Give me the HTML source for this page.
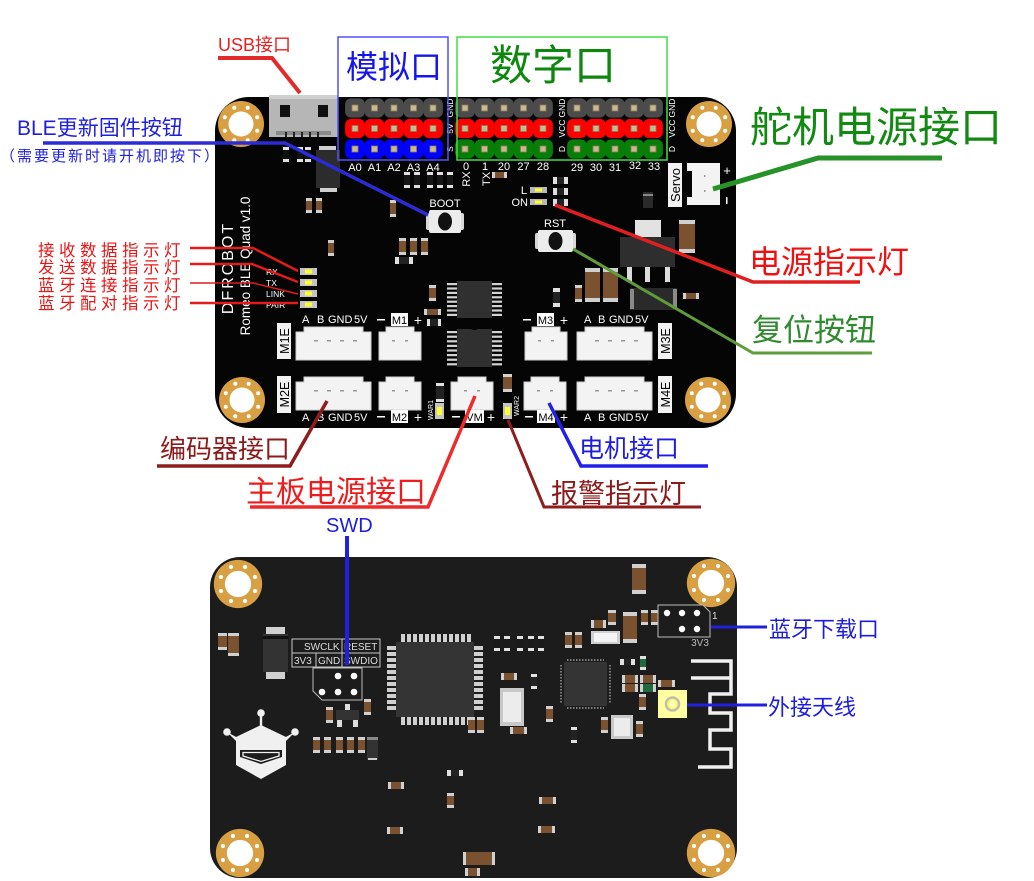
<!DOCTYPE html>
<html><head><meta charset="utf-8">
<style>
html,body{margin:0;padding:0;background:#fff;}
svg{display:block;}
text{font-family:"Liberation Sans","Noto Sans CJK SC",sans-serif;}
</style></head><body>
<svg width="1034" height="881" viewBox="0 0 1034 881" xmlns="http://www.w3.org/2000/svg">
<defs>
<g id="hole">
 <circle r="23" fill="#d9a043"/>
 <circle r="12.5" fill="#fff"/>
 <circle cx="6.7" cy="16.2" r="2" fill="#fff"/><circle cx="16.2" cy="6.7" r="2" fill="#fff"/>
 <circle cx="16.2" cy="-6.7" r="2" fill="#fff"/><circle cx="6.7" cy="-16.2" r="2" fill="#fff"/>
 <circle cx="-6.7" cy="-16.2" r="2" fill="#fff"/><circle cx="-16.2" cy="-6.7" r="2" fill="#fff"/>
 <circle cx="-16.2" cy="6.7" r="2" fill="#fff"/><circle cx="-6.7" cy="16.2" r="2" fill="#fff"/>
</g>
<g id="pin">
 <rect x="-9.9" y="-9.6" width="19.8" height="19.2" rx="6"/>
 <rect x="-3" y="-3" width="6" height="6" fill="#c9b98f" stroke="#8c7c58" stroke-width="0.8"/>
</g>
<g id="c4">
 <path d="M0,5 H8 V0 H67 V5 H75 V33 H0 Z" fill="#f3f3f3" stroke="#cfcfcf" stroke-width="1"/>
 <rect x="18" y="13" width="4" height="1.5" fill="#999"/><rect x="31" y="13" width="4" height="1.5" fill="#999"/>
 <rect x="44" y="13" width="4" height="1.5" fill="#999"/><rect x="57" y="13" width="4" height="1.5" fill="#999"/>
</g>
<g id="c2">
 <path d="M0,5 H7 V0 H35 V5 H42 V33 H0 Z" fill="#f3f3f3" stroke="#cfcfcf" stroke-width="1"/>
 <rect x="13" y="13" width="3" height="1.5" fill="#999"/><rect x="26" y="13" width="3" height="1.5" fill="#999"/>
</g>
</defs>

<rect width="1034" height="881" fill="#fff"/>

<!-- ================= TOP BOARD ================= -->
<rect x="215" y="97" width="521" height="331" rx="34" fill="#050505"/>

<!-- USB -->
<rect x="269" y="95" width="69" height="42" fill="#b6b6b6"/>
<rect x="269" y="95" width="69" height="4" fill="#cfcfcf"/>
<rect x="280" y="105" width="10" height="12" fill="#111"/>
<rect x="318" y="105" width="10" height="12" fill="#111"/>
<rect x="276" y="131" width="55" height="4" fill="#8a8a8a"/>
<rect x="285" y="132" width="2" height="5" fill="#222"/><rect x="293" y="132" width="2" height="5" fill="#222"/><rect x="301" y="132" width="2" height="5" fill="#222"/><rect x="309" y="132" width="2" height="5" fill="#222"/><rect x="317" y="132" width="2" height="5" fill="#222"/>

<!-- holes top board -->
<use href="#hole" x="241" y="124"/>
<use href="#hole" x="709" y="124"/>
<use href="#hole" x="242" y="400"/>
<use href="#hole" x="708" y="400"/>

<!-- small comps near USB -->
<g fill="#e0e0e0">
<rect x="283" y="147" width="6" height="15"/><rect x="297" y="147" width="6" height="15"/><rect x="305" y="147" width="6" height="15"/>
</g>
<g fill="#111">
<rect x="283" y="150" width="6" height="9"/><rect x="297" y="150" width="6" height="9"/><rect x="305" y="150" width="6" height="9"/>
</g>
<rect x="319" y="146" width="17" height="5" fill="#cfcfcf"/>
<rect x="316" y="150" width="24" height="38" fill="#2c2c2c"/>
<rect x="320" y="188" width="17" height="4" fill="#cfcfcf"/>

<!-- brown caps -->
<g>
<rect x="306" y="198" width="6" height="15" fill="#d0d0d0"/><rect x="306" y="201" width="6" height="9" fill="#7a5230"/>
<rect x="316" y="198" width="6" height="15" fill="#d0d0d0"/><rect x="316" y="201" width="6" height="9" fill="#7a5230"/>
<rect x="390" y="200" width="6" height="17" fill="#d0d0d0"/><rect x="390" y="203" width="6" height="11" fill="#7a5230"/>
<rect x="328" y="240" width="6" height="16" fill="#d0d0d0"/><rect x="328" y="243" width="6" height="10" fill="#7a5230"/>
<rect x="399" y="238" width="7" height="17" fill="#d0d0d0"/><rect x="399" y="241" width="7" height="11" fill="#7a5230"/>
<rect x="410" y="238" width="7" height="17" fill="#d0d0d0"/><rect x="410" y="241" width="7" height="11" fill="#7a5230"/>
<rect x="421" y="238" width="7" height="17" fill="#d0d0d0"/><rect x="421" y="241" width="7" height="11" fill="#7a5230"/>
<rect x="429" y="285" width="7" height="16" fill="#d0d0d0"/><rect x="429" y="288" width="7" height="10" fill="#7a5230"/>
<rect x="424" y="309" width="17" height="6" fill="#d0d0d0"/><rect x="427" y="309" width="11" height="6" fill="#7a5230"/>
<rect x="492" y="172" width="15" height="6" fill="#d0d0d0"/><rect x="495" y="172" width="9" height="6" fill="#7a5230"/>
</g>
<rect x="395" y="257" width="18" height="7" fill="#e0e0e0"/><rect x="399" y="257" width="10" height="7" fill="#222"/>
<rect x="427" y="319" width="14" height="7" fill="#e0e0e0"/><rect x="430" y="319" width="8" height="7" fill="#222"/>

<!-- 5 comps below analog -->
<g fill="#e0e0e0">
<rect x="404" y="172" width="6" height="16"/><rect x="414" y="172" width="6" height="16"/><rect x="427" y="172" width="6" height="16"/><rect x="437" y="172" width="6" height="16"/><rect x="447" y="172" width="6" height="16"/>
</g>
<g fill="#151515">
<rect x="404" y="175" width="6" height="10"/><rect x="414" y="175" width="6" height="10"/><rect x="427" y="175" width="6" height="10"/><rect x="437" y="175" width="6" height="10"/><rect x="447" y="175" width="6" height="10"/>
</g>

<!-- pin headers analog -->
<g>
<use href="#pin" x="355" y="108" fill="#4b4b4b"/><use href="#pin" x="374.5" y="108" fill="#4b4b4b"/><use href="#pin" x="394" y="108" fill="#4b4b4b"/><use href="#pin" x="413.5" y="108" fill="#4b4b4b"/><use href="#pin" x="433" y="108" fill="#4b4b4b"/>
<use href="#pin" x="355" y="128.5" fill="#ff0000"/><use href="#pin" x="374.5" y="128.5" fill="#ff0000"/><use href="#pin" x="394" y="128.5" fill="#ff0000"/><use href="#pin" x="413.5" y="128.5" fill="#ff0000"/><use href="#pin" x="433" y="128.5" fill="#ff0000"/>
<use href="#pin" x="355" y="149" fill="#0000ff"/><use href="#pin" x="374.5" y="149" fill="#0000ff"/><use href="#pin" x="394" y="149" fill="#0000ff"/><use href="#pin" x="413.5" y="149" fill="#0000ff"/><use href="#pin" x="433" y="149" fill="#0000ff"/>
</g>
<!-- digital group 1 -->
<g>
<use href="#pin" x="465" y="108" fill="#4b4b4b"/><use href="#pin" x="484.5" y="108" fill="#4b4b4b"/><use href="#pin" x="504" y="108" fill="#4b4b4b"/><use href="#pin" x="523.5" y="108" fill="#4b4b4b"/><use href="#pin" x="543" y="108" fill="#4b4b4b"/>
<use href="#pin" x="465" y="128.5" fill="#ff0000"/><use href="#pin" x="484.5" y="128.5" fill="#ff0000"/><use href="#pin" x="504" y="128.5" fill="#ff0000"/><use href="#pin" x="523.5" y="128.5" fill="#ff0000"/><use href="#pin" x="543" y="128.5" fill="#ff0000"/>
<use href="#pin" x="465" y="149" fill="#077e07"/><use href="#pin" x="484.5" y="149" fill="#077e07"/><use href="#pin" x="504" y="149" fill="#077e07"/><use href="#pin" x="523.5" y="149" fill="#077e07"/><use href="#pin" x="543" y="149" fill="#077e07"/>
</g>
<!-- digital group 2 -->
<g>
<use href="#pin" x="577" y="108" fill="#4b4b4b"/><use href="#pin" x="596" y="108" fill="#4b4b4b"/><use href="#pin" x="615" y="108" fill="#4b4b4b"/><use href="#pin" x="634" y="108" fill="#4b4b4b"/><use href="#pin" x="653" y="108" fill="#4b4b4b"/>
<use href="#pin" x="577" y="128.5" fill="#ff0000"/><use href="#pin" x="596" y="128.5" fill="#ff0000"/><use href="#pin" x="615" y="128.5" fill="#ff0000"/><use href="#pin" x="634" y="128.5" fill="#ff0000"/><use href="#pin" x="653" y="128.5" fill="#ff0000"/>
<use href="#pin" x="577" y="149" fill="#077e07"/><use href="#pin" x="596" y="149" fill="#077e07"/><use href="#pin" x="615" y="149" fill="#077e07"/><use href="#pin" x="634" y="149" fill="#077e07"/><use href="#pin" x="653" y="149" fill="#077e07"/>
</g>

<!-- header labels -->
<g fill="#fff" font-size="8.5" text-anchor="middle">
<text transform="translate(453,108) rotate(-90)">GND</text>
<text transform="translate(453,128.5) rotate(-90)">5V</text>
<text transform="translate(453,149) rotate(-90)">S</text>
<text transform="translate(565,108) rotate(-90)">GND</text>
<text transform="translate(565,128.5) rotate(-90)">VCC</text>
<text transform="translate(565,149) rotate(-90)">D</text>
<text transform="translate(675,108) rotate(-90)">GND</text>
<text transform="translate(675,128.5) rotate(-90)">VCC</text>
<text transform="translate(675,149) rotate(-90)">D</text>
</g>
<g fill="#fff" font-size="11" text-anchor="middle">
<text x="355" y="171">A0</text><text x="374.5" y="171">A1</text><text x="394" y="171">A2</text><text x="413.5" y="171">A3</text><text x="433" y="171">A4</text>
<text x="466" y="170">0</text><text x="485" y="170">1</text><text x="504" y="170">20</text><text x="523.5" y="170">27</text><text x="543" y="170">28</text>
<text x="577" y="171">29</text><text x="596" y="171">30</text><text x="615" y="171">31</text><text x="635" y="169">32</text><text x="654" y="170">33</text>
<text transform="translate(470,179) rotate(-90)">RX</text>
<text transform="translate(490,179) rotate(-90)">TX</text>
</g>

<!-- BOOT -->
<rect x="426" y="213" width="38" height="17" fill="#d8d8d8" rx="2"/>
<rect x="429" y="210" width="32" height="23" fill="#ececec" rx="2"/>
<ellipse cx="445" cy="221.5" rx="7" ry="9" fill="#111"/>
<text x="445" y="207" fill="#fff" font-size="11" text-anchor="middle">BOOT</text>

<!-- L / ON LEDs -->
<rect x="530" y="187" width="17" height="6" fill="#b8b8b8"/><rect x="535" y="188.5" width="7" height="3" fill="#ffff30"/>
<rect x="530" y="199" width="17" height="6" fill="#b8b8b8"/><rect x="535" y="200.5" width="7" height="3" fill="#ffff30"/>
<text x="527" y="194" fill="#fff" font-size="11" text-anchor="end">L</text>
<text x="528" y="206" fill="#fff" font-size="11" text-anchor="end">ON</text>
<g>
<rect x="553" y="177" width="15" height="7" fill="#e0e0e0"/><rect x="557" y="177" width="7" height="7" fill="#222"/>
<rect x="553" y="188" width="15" height="7" fill="#e0e0e0"/><rect x="557" y="188" width="7" height="7" fill="#222"/>
<rect x="553" y="199" width="15" height="7" fill="#e0e0e0"/><rect x="557" y="199" width="7" height="7" fill="#222"/>
</g>

<!-- RST -->
<rect x="535" y="233" width="41" height="16" fill="#d8d8d8" rx="2"/>
<rect x="538" y="230" width="35" height="22" fill="#ececec" rx="2"/>
<ellipse cx="555.5" cy="241" rx="7" ry="9" fill="#111"/>
<text x="555" y="227" fill="#fff" font-size="11" text-anchor="middle">RST</text>

<!-- regulator area -->
<rect x="643" y="192" width="10" height="16" fill="#2a2a2a"/><rect x="643" y="194" width="10" height="2" fill="#888"/>
<rect x="635" y="220" width="26" height="17" fill="#e2e2e2"/>
<rect x="620" y="237" width="55" height="30" fill="#2e2e2e"/>
<rect x="627" y="267" width="5" height="15" fill="#dcdcdc"/><rect x="645" y="267" width="5" height="15" fill="#dcdcdc"/><rect x="665" y="267" width="5" height="15" fill="#dcdcdc"/>
<rect x="679" y="220" width="16" height="33" fill="#d0d0d0"/><rect x="679" y="224" width="16" height="25" fill="#7a5230"/>
<rect x="585" y="268" width="15" height="34" fill="#d0d0d0"/><rect x="585" y="272" width="15" height="26" fill="#7a5230"/>
<rect x="603" y="268" width="15" height="34" fill="#d0d0d0"/><rect x="603" y="272" width="15" height="26" fill="#7a5230"/>
<rect x="575" y="285" width="7" height="17" fill="#d0d0d0"/><rect x="575" y="288" width="7" height="11" fill="#7a5230"/>
<rect x="553" y="288" width="7" height="19" fill="#e0e0e0"/><rect x="553" y="292" width="7" height="11" fill="#222"/>
<rect x="630" y="288" width="47" height="22" fill="#2a2a2a"/><rect x="630" y="289" width="4" height="20" fill="#8a8a8a"/><rect x="673" y="289" width="4" height="20" fill="#8a8a8a"/>
<rect x="683" y="293" width="16" height="6" fill="#d0d0d0"/><rect x="686" y="293" width="10" height="6" fill="#7a5230"/>

<!-- Servo -->
<rect x="668" y="163" width="14" height="44" fill="#f2f2f2"/>
<text transform="translate(680,185) rotate(-90)" fill="#000" font-size="13" text-anchor="middle">Servo</text>
<path d="M687,163 H720 V205 H687 V197 H692 V171 H687 Z" fill="#f3f3f3"/>
<rect x="704" y="175" width="1.5" height="2" fill="#999"/><rect x="704" y="190" width="1.5" height="2" fill="#999"/>
<text x="727" y="175" fill="#fff" font-size="13" text-anchor="middle">+</text>
<rect x="726" y="197" width="1.5" height="7" fill="#fff"/>

<!-- Silkscreen rotated -->
<text transform="translate(233,268) rotate(-90)" fill="#fff" font-size="16" letter-spacing="2" text-anchor="middle">DFROBOT</text>
<text transform="translate(250,266) rotate(-90)" fill="#fff" font-size="13.5" text-anchor="middle">Romeo BLE Quad v1.0</text>

<!-- indicator LEDs -->
<g fill="#fff" font-size="8.5">
<text x="266" y="275">RX</text><text x="266" y="286">TX</text><text x="266" y="297">LINK</text><text x="266" y="308">PAIR</text>
</g>
<g>
<rect x="300" y="268" width="17" height="7" fill="#c4c4c4"/><rect x="305" y="269.5" width="7" height="4" fill="#ffff30"/>
<rect x="300" y="279" width="17" height="7" fill="#c4c4c4"/><rect x="305" y="280.5" width="7" height="4" fill="#ffff30"/>
<rect x="300" y="290" width="17" height="7" fill="#c4c4c4"/><rect x="305" y="291.5" width="7" height="4" fill="#ffff30"/>
<rect x="300" y="301" width="17" height="7" fill="#c4c4c4"/><rect x="305" y="302.5" width="7" height="4" fill="#ffff30"/>
</g>

<!-- motor driver chips -->
<g fill="#d2d2d2">
<rect x="447" y="283" width="10" height="2.2"/><rect x="447" y="287.4" width="10" height="2.2"/><rect x="447" y="291.8" width="10" height="2.2"/><rect x="447" y="296.2" width="10" height="2.2"/><rect x="447" y="300.6" width="10" height="2.2"/><rect x="447" y="305" width="10" height="2.2"/><rect x="447" y="309.4" width="10" height="2.2"/><rect x="447" y="313.8" width="10" height="2.2"/>
<rect x="492" y="283" width="10" height="2.2"/><rect x="492" y="287.4" width="10" height="2.2"/><rect x="492" y="291.8" width="10" height="2.2"/><rect x="492" y="296.2" width="10" height="2.2"/><rect x="492" y="300.6" width="10" height="2.2"/><rect x="492" y="305" width="10" height="2.2"/><rect x="492" y="309.4" width="10" height="2.2"/><rect x="492" y="313.8" width="10" height="2.2"/>
<rect x="447" y="331" width="10" height="2.2"/><rect x="447" y="335.6" width="10" height="2.2"/><rect x="447" y="340.2" width="10" height="2.2"/><rect x="447" y="344.8" width="10" height="2.2"/><rect x="447" y="349.4" width="10" height="2.2"/><rect x="447" y="354" width="10" height="2.2"/><rect x="447" y="358.6" width="10" height="2.2"/><rect x="447" y="363.2" width="10" height="2.2"/>
<rect x="492" y="331" width="10" height="2.2"/><rect x="492" y="335.6" width="10" height="2.2"/><rect x="492" y="340.2" width="10" height="2.2"/><rect x="492" y="344.8" width="10" height="2.2"/><rect x="492" y="349.4" width="10" height="2.2"/><rect x="492" y="354" width="10" height="2.2"/><rect x="492" y="358.6" width="10" height="2.2"/><rect x="492" y="363.2" width="10" height="2.2"/>
</g>
<rect x="457" y="281" width="35" height="37" fill="#303030"/>
<rect x="457" y="329" width="35" height="38" fill="#303030"/>
<circle cx="474.5" cy="324" r="6" fill="#050505"/>

<!-- motor connectors row 1 -->
<use href="#c4" x="296" y="327"/>
<use href="#c2" x="379" y="327"/>
<use href="#c2" x="525" y="327"/>
<use href="#c4" x="577" y="327"/>
<!-- row 2 -->
<use href="#c4" x="296" y="377"/>
<use href="#c2" x="379" y="377"/>
<use href="#c2" x="451" y="377"/>
<use href="#c2" x="524" y="377"/>
<use href="#c4" x="577" y="377"/>

<!-- ME label boxes -->
<rect x="277" y="323" width="14" height="36" fill="#f2f2f2"/>
<rect x="658" y="323" width="14" height="36" fill="#f2f2f2"/>
<rect x="277" y="376" width="14" height="37" fill="#f2f2f2"/>
<rect x="658" y="376" width="14" height="37" fill="#f2f2f2"/>
<g fill="#000" font-size="12.5" text-anchor="middle">
<text transform="translate(289,341) rotate(-90)">M1E</text>
<text transform="translate(670,341) rotate(-90)">M3E</text>
<text transform="translate(289,394.5) rotate(-90)">M2E</text>
<text transform="translate(670,394.5) rotate(-90)">M4E</text>
</g>

<!-- connector labels -->
<g fill="#fff" font-size="11">
<text x="302" y="323">A</text><text x="317" y="323">B</text><text x="328" y="323">GND</text><text x="354" y="323">5V</text>
<text x="584" y="323">A</text><text x="598" y="323">B</text><text x="609" y="323">GND</text><text x="635" y="323">5V</text>
<text x="302" y="421">A</text><text x="317" y="421">B</text><text x="328" y="421">GND</text><text x="354" y="421">5V</text>
<text x="584" y="421">A</text><text x="598" y="421">B</text><text x="609" y="421">GND</text><text x="635" y="421">5V</text>
</g>
<g fill="#fff">
<rect x="377" y="319" width="8" height="1.5"/><rect x="391" y="313" width="17" height="13"/>
<rect x="523" y="319" width="8" height="1.5"/><rect x="537" y="313" width="17" height="13"/>
<rect x="377" y="416" width="8" height="1.5"/><rect x="391" y="410" width="17" height="13"/>
<rect x="452" y="416" width="8" height="1.5"/><rect x="465" y="410" width="19" height="13"/>
<rect x="525" y="416" width="8" height="1.5"/><rect x="537" y="410" width="18" height="13"/>
</g>
<g fill="#000" font-size="11" text-anchor="middle">
<text x="399.5" y="324">M1</text><text x="545.5" y="324">M3</text>
<text x="399.5" y="421">M2</text><text x="474.5" y="421">VM</text><text x="546" y="421">M4</text>
</g>
<g fill="#fff" font-size="14" text-anchor="middle">
<text x="418" y="325">+</text><text x="564" y="325">+</text>
<text x="418" y="422">+</text><text x="491" y="422">+</text><text x="564" y="422">+</text>
</g>

<!-- WAR LEDs -->
<rect x="436" y="383" width="8" height="19" fill="#e0e0e0"/><rect x="436" y="386" width="8" height="13" fill="#222"/>
<rect x="435" y="403" width="9" height="16" fill="#c4c4c4"/><rect x="437" y="407" width="5" height="8" fill="#ffff30"/>
<rect x="503" y="374" width="9" height="18" fill="#d0d0d0"/><rect x="503" y="377" width="9" height="12" fill="#7a5230"/>
<rect x="503" y="403" width="9" height="16" fill="#c4c4c4"/><rect x="505" y="407" width="5" height="8" fill="#ffff30"/>
<g fill="#fff" font-size="7" text-anchor="middle">
<text transform="translate(433,410) rotate(-90)">WAR1</text>
<text transform="translate(519,406) rotate(-90)">WAR2</text>
</g>

<!-- ================= BOTTOM BOARD ================= -->
<rect x="210" y="557" width="527" height="321" rx="30" fill="#1c1c1c"/>
<use href="#hole" x="238" y="584" transform="translate(-11.9,-29.2) scale(1.05)"/>
<use href="#hole" x="711" y="583" transform="translate(-35.55,-29.15) scale(1.05)"/>
<use href="#hole" x="240" y="853" transform="translate(-12,-42.65) scale(1.05)"/>
<use href="#hole" x="711" y="853" transform="translate(-35.55,-42.65) scale(1.05)"/>

<rect x="218" y="633" width="9" height="17" fill="#d0d0d0"/><rect x="218" y="636" width="9" height="11" fill="#7a5230"/>
<rect x="228" y="633" width="11" height="23" fill="#d0d0d0"/><rect x="228" y="636" width="11" height="17" fill="#7a5230"/>
<rect x="266" y="627" width="19" height="7" fill="#d0d0d0"/>
<rect x="263" y="634" width="25" height="38" fill="#333"/>
<rect x="263" y="636" width="25" height="3" fill="#111"/>
<rect x="266" y="672" width="19" height="7" fill="#d0d0d0"/>

<g fill="none" stroke="#c8c8c8" stroke-width="1">
<rect x="292" y="639" width="88" height="28"/>
<line x1="292" y1="653" x2="380" y2="653"/>
<line x1="342" y1="639" x2="342" y2="667"/>
<line x1="316" y1="653" x2="316" y2="667"/>
</g>
<g fill="#dcdcdc" font-size="10">
<text x="304" y="650">SWCLK</text><text x="344" y="650">RESET</text>
<text x="294" y="664">3V3</text><text x="318" y="664">GND</text><text x="344" y="664">SWDIO</text>
</g>
<path d="M313,668 H362 V700 H322 L313,691 Z" fill="none" stroke="#bbb" stroke-width="1"/>
<g fill="#fff">
<circle cx="338" cy="676" r="3.3"/><circle cx="354" cy="676" r="3.3"/>
<circle cx="322" cy="692" r="3.3"/><circle cx="338" cy="692" r="3.3"/><circle cx="354" cy="692" r="3.3"/>
</g>

<rect x="364" y="699" width="7" height="16" fill="#d0d0d0"/><rect x="364" y="702" width="7" height="10" fill="#7a5230"/>
<rect x="326" y="707" width="7" height="16" fill="#d0d0d0"/><rect x="326" y="710" width="7" height="10" fill="#7a5230"/>
<rect x="345" y="704" width="5" height="6" fill="#ddd"/>
<rect x="336" y="710" width="23" height="10" fill="#333"/>
<rect x="337" y="720" width="5" height="7" fill="#ddd"/><rect x="353" y="720" width="5" height="7" fill="#ddd"/>
<g>
<rect x="313" y="737" width="7" height="16" fill="#d0d0d0"/><rect x="313" y="740" width="7" height="10" fill="#7a5230"/>
<rect x="324" y="737" width="7" height="16" fill="#d0d0d0"/><rect x="324" y="740" width="7" height="10" fill="#7a5230"/>
<rect x="336" y="737" width="7" height="16" fill="#d0d0d0"/><rect x="336" y="740" width="7" height="10" fill="#7a5230"/>
<rect x="347" y="737" width="7" height="16" fill="#d0d0d0"/><rect x="347" y="740" width="7" height="10" fill="#7a5230"/>
<rect x="358" y="737" width="7" height="16" fill="#d0d0d0"/><rect x="358" y="740" width="7" height="10" fill="#7a5230"/>
</g>
<rect x="367" y="737" width="11" height="23" fill="#333"/><rect x="367" y="737" width="11" height="3" fill="#888"/><rect x="368" y="758" width="9" height="2" fill="#ccc"/>

<g fill="#cfcfcf">
<rect x="401" y="634" width="4" height="8"/><rect x="407" y="634" width="4" height="8"/><rect x="413" y="634" width="4" height="8"/><rect x="419" y="634" width="4" height="8"/><rect x="425" y="634" width="4" height="8"/><rect x="431" y="634" width="4" height="8"/><rect x="437" y="634" width="4" height="8"/><rect x="443" y="634" width="4" height="8"/><rect x="449" y="634" width="4" height="8"/><rect x="455" y="634" width="4" height="8"/><rect x="461" y="634" width="4" height="8"/><rect x="467" y="634" width="4" height="8"/>
<rect x="401" y="717" width="4" height="8"/><rect x="407" y="717" width="4" height="8"/><rect x="413" y="717" width="4" height="8"/><rect x="419" y="717" width="4" height="8"/><rect x="425" y="717" width="4" height="8"/><rect x="431" y="717" width="4" height="8"/><rect x="437" y="717" width="4" height="8"/><rect x="443" y="717" width="4" height="8"/><rect x="449" y="717" width="4" height="8"/><rect x="455" y="717" width="4" height="8"/><rect x="461" y="717" width="4" height="8"/><rect x="467" y="717" width="4" height="8"/>
<rect x="387" y="646" width="9" height="4"/><rect x="387" y="652" width="9" height="4"/><rect x="387" y="658" width="9" height="4"/><rect x="387" y="664" width="9" height="4"/><rect x="387" y="670" width="9" height="4"/><rect x="387" y="676" width="9" height="4"/><rect x="387" y="682" width="9" height="4"/><rect x="387" y="688" width="9" height="4"/><rect x="387" y="694" width="9" height="4"/><rect x="387" y="700" width="9" height="4"/><rect x="387" y="706" width="9" height="4"/>
<rect x="474" y="646" width="9" height="4"/><rect x="474" y="652" width="9" height="4"/><rect x="474" y="658" width="9" height="4"/><rect x="474" y="664" width="9" height="4"/><rect x="474" y="670" width="9" height="4"/><rect x="474" y="676" width="9" height="4"/><rect x="474" y="682" width="9" height="4"/><rect x="474" y="688" width="9" height="4"/><rect x="474" y="694" width="9" height="4"/><rect x="474" y="700" width="9" height="4"/><rect x="474" y="706" width="9" height="4"/>
</g>
<rect x="396" y="642" width="78" height="75" fill="#343434"/>
<rect x="468" y="717" width="7" height="16" fill="#d0d0d0"/><rect x="468" y="720" width="7" height="10" fill="#7a5230"/>
<rect x="477" y="717" width="7" height="16" fill="#d0d0d0"/><rect x="477" y="720" width="7" height="10" fill="#7a5230"/>

<g fill="#e0e0e0">
<rect x="494" y="636" width="6" height="15"/><rect x="504" y="636" width="6" height="15"/><rect x="517" y="636" width="6" height="15"/><rect x="528" y="636" width="6" height="15"/><rect x="538" y="636" width="6" height="15"/>
</g>
<g fill="#1a1a1a">
<rect x="494" y="639" width="6" height="9"/><rect x="504" y="639" width="6" height="9"/><rect x="517" y="639" width="6" height="9"/><rect x="528" y="639" width="6" height="9"/><rect x="538" y="639" width="6" height="9"/>
</g>
<rect x="565" y="632" width="7" height="16" fill="#d0d0d0"/><rect x="565" y="635" width="7" height="10" fill="#7a5230"/>
<rect x="575" y="632" width="7" height="16" fill="#d0d0d0"/><rect x="575" y="635" width="7" height="10" fill="#7a5230"/>
<rect x="591" y="631" width="29" height="13" fill="#cfcfcf"/><rect x="594" y="633" width="23" height="9" fill="#f3f3f3"/>
<rect x="591" y="620" width="15" height="8" fill="#d0d0d0"/><rect x="594" y="620" width="9" height="8" fill="#7a5230"/>
<rect x="608" y="610" width="8" height="15" fill="#d0d0d0"/><rect x="608" y="613" width="8" height="9" fill="#7a5230"/>
<rect x="623" y="612" width="14" height="31" fill="#d0d0d0"/><rect x="623" y="616" width="14" height="23" fill="#7a5230"/>
<rect x="632" y="564" width="14" height="30" fill="#d0d0d0"/><rect x="632" y="568" width="14" height="22" fill="#7a5230"/>
<rect x="641" y="610" width="7" height="15" fill="#d0d0d0"/><rect x="641" y="613" width="7" height="9" fill="#7a5230"/>
<rect x="651" y="610" width="7" height="15" fill="#d0d0d0"/><rect x="651" y="613" width="7" height="9" fill="#7a5230"/>

<path d="M658,605 H703 L710,612 V637 H658 Z" fill="none" stroke="#bbb" stroke-width="1"/>
<g fill="#fff">
<circle cx="667" cy="613" r="3.2"/><circle cx="682" cy="613" r="3.2"/><circle cx="697" cy="613" r="3.2"/>
<circle cx="682" cy="629" r="3.2"/><circle cx="697" cy="629" r="3.2"/>
</g>
<text x="712" y="619" fill="#ddd" font-size="10">1</text>
<text x="700" y="646" fill="#bbb" font-size="10" text-anchor="middle">3V3</text>

<g stroke="#bbb" stroke-width="1.2">
<line x1="567" y1="660" x2="604" y2="660" stroke-dasharray="1.5,1.5"/>
<line x1="567" y1="708" x2="604" y2="708" stroke-dasharray="1.5,1.5"/>
<line x1="561" y1="665" x2="561" y2="703" stroke-dasharray="1.5,1.5"/>
<line x1="610" y1="665" x2="610" y2="703" stroke-dasharray="1.5,1.5"/>
</g>
<rect x="564" y="662" width="43" height="44" fill="#343434"/>
<rect x="620" y="659" width="15" height="6" fill="#e0e0e0"/><rect x="624" y="659" width="7" height="6" fill="#222"/>
<rect x="640" y="656" width="6" height="14" fill="#e0e0e0"/><rect x="640" y="659" width="6" height="8" fill="#1f6b3c"/>
<rect x="622" y="675" width="16" height="8" fill="#d0d0d0"/><rect x="625" y="675" width="10" height="8" fill="#7a5230"/>
<rect x="640" y="675" width="16" height="8" fill="#d0d0d0"/><rect x="643" y="675" width="10" height="8" fill="#7a5230"/>
<rect x="622" y="684" width="16" height="8" fill="#d0d0d0"/><rect x="625" y="684" width="10" height="8" fill="#7a5230"/>
<rect x="640" y="684" width="16" height="8" fill="#d0d0d0"/><rect x="643" y="684" width="10" height="8" fill="#1f6b3c"/>
<rect x="658" y="680" width="17" height="7" fill="#d0d0d0"/><rect x="661" y="680" width="11" height="7" fill="#7a5230"/>
<rect x="639" y="694" width="7" height="16" fill="#d0d0d0"/><rect x="639" y="697" width="7" height="10" fill="#7a5230"/>

<rect x="500" y="688" width="24" height="38" fill="#c8c8c8"/><rect x="503" y="692" width="18" height="30" fill="#ececec"/>
<rect x="501" y="673" width="16" height="7" fill="#d0d0d0"/><rect x="504" y="673" width="10" height="7" fill="#7a5230"/>
<rect x="531" y="674" width="6" height="15" fill="#e0e0e0"/><rect x="531" y="677" width="6" height="9" fill="#222"/>
<rect x="546" y="706" width="7" height="16" fill="#d0d0d0"/><rect x="546" y="709" width="7" height="10" fill="#7a5230"/>
<rect x="611" y="715" width="22" height="24" fill="#c8c8c8"/><rect x="614" y="718" width="16" height="18" fill="#ececec"/>
<rect x="601" y="717" width="7" height="16" fill="#d0d0d0"/><rect x="601" y="720" width="7" height="10" fill="#7a5230"/>
<rect x="636" y="721" width="7" height="16" fill="#d0d0d0"/><rect x="636" y="724" width="7" height="10" fill="#7a5230"/>
<rect x="510" y="727" width="17" height="7" fill="#d0d0d0"/><rect x="513" y="727" width="11" height="7" fill="#7a5230"/>
<rect x="571" y="727" width="6" height="16" fill="#e0e0e0"/><rect x="571" y="730" width="6" height="10" fill="#222"/>
<rect x="447" y="770" width="16" height="6" fill="#e0e0e0"/><rect x="451" y="770" width="8" height="6" fill="#222"/>
<rect x="388" y="782" width="16" height="7" fill="#d0d0d0"/><rect x="391" y="782" width="10" height="7" fill="#7a5230"/>
<rect x="447" y="793" width="7" height="15" fill="#d0d0d0"/><rect x="447" y="796" width="7" height="9" fill="#7a5230"/>
<rect x="539" y="797" width="17" height="7" fill="#d0d0d0"/><rect x="542" y="797" width="11" height="7" fill="#7a5230"/>
<rect x="387" y="827" width="16" height="7" fill="#d0d0d0"/><rect x="390" y="827" width="10" height="7" fill="#7a5230"/>
<rect x="538" y="826" width="17" height="7" fill="#d0d0d0"/><rect x="541" y="826" width="11" height="7" fill="#7a5230"/>
<rect x="463" y="852" width="32" height="13" fill="#d0d0d0"/><rect x="466" y="852" width="26" height="13" fill="#7a5230"/>
<rect x="465" y="868" width="15" height="8" fill="#d0d0d0"/><rect x="468" y="868" width="9" height="8" fill="#7a5230"/>

<rect x="658" y="690" width="29" height="28" fill="#ffffa0"/>
<circle cx="672.5" cy="704" r="6.5" fill="#ffff66" stroke="#bdbdbd" stroke-width="2.5"/>
<circle cx="672.5" cy="704" r="3" fill="#ffffcc"/>

<g fill="none" stroke="#f0f0f0" stroke-width="3.5">
<path d="M691,661 H731 V694 H710 V713 H731 V730 H710 V749 H731 V767 H698"/>
<path d="M691,678 H731"/>
</g>

<g fill="#f0f0f0">
<circle cx="261" cy="713" r="3.8"/>
<rect x="259.8" y="713" width="2.4" height="13"/>
<circle cx="227" cy="732" r="3.8"/>
<circle cx="295" cy="732" r="3.8"/>
<path d="M227,732 L238,738 L236,741 Z"/>
<path d="M295,732 L284,738 L286,741 Z"/>
<path d="M261,725 L286,737 L286,765 L261,779 L236,765 L236,737 Z"/>
</g>
<path d="M240,750 H282 V757 L261,764 L240,757 Z" fill="#1c1c1c"/>
<path d="M243,752.5 H279 V756 L261,761.5 L243,756 Z" fill="none" stroke="#f0f0f0" stroke-width="1.3"/>

<!-- ================= ANNOTATIONS ================= -->
<rect x="338" y="37" width="110" height="123" fill="none" stroke="#5050ff" stroke-width="1.5"/>
<rect x="457" y="37" width="210" height="123" fill="none" stroke="#44dd44" stroke-width="1.5"/>
<text x="346" y="78" fill="#1515f0" font-size="32">模拟口</text>
<text x="490" y="80" fill="#0d870d" font-size="42">数字口</text>

<text x="218" y="51" fill="#e82020" font-size="18">USB接口</text>
<path d="M218,58 H272 L300,93" fill="none" stroke="#e32a2a" stroke-width="4"/>

<text x="17" y="135" fill="#1f1fe0" font-size="21">BLE更新固件按钮</text>
<text x="0" y="161" fill="#1f1fe0" font-size="15" letter-spacing="2">（需要更新时请开机即按下）</text>
<path d="M43,143 H285 L428,215" fill="none" stroke="#2b2bd8" stroke-width="3.5"/>

<g fill="#e81515" font-size="16.5" letter-spacing="4.5">
<text x="38" y="256">接收数据指示灯</text>
<text x="38" y="273">发送数据指示灯</text>
<text x="38" y="291">蓝牙连接指示灯</text>
<text x="38" y="309">蓝牙配对指示灯</text>
</g>
<g fill="none" stroke="#e31b1b">
<path d="M190,248 H253 L298,271" stroke-width="2.5"/>
<path d="M190,264 H252 L298,282" stroke-width="2.5"/>
<path d="M190,283 H253 L298,294" stroke-width="1.5"/>
<path d="M190,303 H298" stroke-width="2.5"/>
</g>

<text x="750" y="142" fill="#128a12" font-size="42">舵机电源接口</text>
<path d="M942,158 H818 L713,189" fill="none" stroke="#279227" stroke-width="5"/>

<text x="749" y="273" fill="#f01010" font-size="32">电源指示灯</text>
<path d="M555,205 L753,282 H860" fill="none" stroke="#e02020" stroke-width="3.5"/>

<text x="752" y="341" fill="#2e8b2e" font-size="31">复位按钮</text>
<path d="M573,249 L753,353 H872" fill="none" stroke="#5e9c3c" stroke-width="3"/>

<text x="160" y="458" fill="#8b1a1a" font-size="26">编码器接口</text>
<path d="M157,466 H290 L327,401" fill="none" stroke="#8e1e1e" stroke-width="3.5"/>

<text x="246" y="502" fill="#ee1c1c" font-size="30">主板电源接口</text>
<path d="M250,507 H428 L475,396" fill="none" stroke="#ee2a2a" stroke-width="3.5"/>

<text x="551" y="503" fill="#8b1a1a" font-size="27">报警指示灯</text>
<path d="M508,420 L544,507 H701" fill="none" stroke="#8e1e1e" stroke-width="3"/>

<text x="579" y="457" fill="#1c1ce8" font-size="25">电机接口</text>
<path d="M549,403 L581,466 H708" fill="none" stroke="#2020e8" stroke-width="3.5"/>

<text x="326" y="532" fill="#1c1ce0" font-size="20">SWD</text>
<path d="M347,536 V665" fill="none" stroke="#2020e0" stroke-width="4"/>

<text x="769" y="637" fill="#1c1ce0" font-size="22">蓝牙下载口</text>
<path d="M711,627 H767" fill="none" stroke="#2020dd" stroke-width="3"/>
<text x="768" y="715" fill="#1c1ce0" font-size="22">外接天线</text>
<path d="M687,705 H767" fill="none" stroke="#2020dd" stroke-width="3"/>
</svg>
</body></html>
